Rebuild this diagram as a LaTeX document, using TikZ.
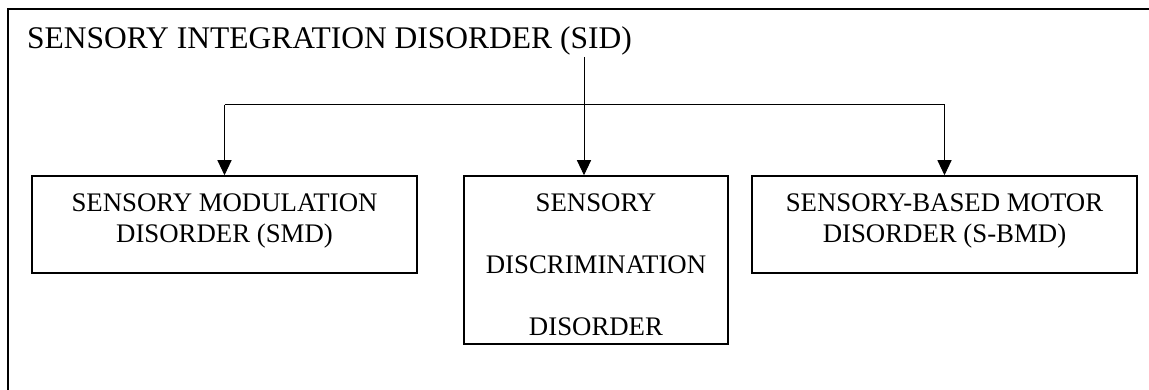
\documentclass[tikz,border=0pt]{standalone}
\usepackage{fontspec}
\setmainfont{Liberation Serif}
\usetikzlibrary{arrows.meta}
\tikzset{
  frameline/.style={line width=1.8pt},
  box/.style={draw, rectangle, line width=1.5pt, inner sep=0pt},
  boxtxt/.style={anchor=base, inner sep=0pt, font=\fontsize{26.8}{31}\selectfont},
  titletxt/.style={anchor=base west, inner sep=0pt, font=\fontsize{31.5}{36}\selectfont},
  conn/.style={line width=1pt},
  arr/.style={conn, -{Triangle[length=15pt,width=14pt]}}
}
\begin{document}
\begin{tikzpicture}[x=1pt,y=-1pt]
\useasboundingbox (0,0) rectangle (1149,390);
% frame (left and top edges)
\draw[frameline] (8,390) -- (8,9) -- (1149,9);
% title
\node[titletxt] (sid) at (27,48.5) {SENSORY INTEGRATION DISORDER (SID)};
% boxes
\node[box, minimum width=385pt, minimum height=97pt] (smd) at (224.5,224.5) {};
\node[box, minimum width=264pt, minimum height=168pt] (sdd) at (596,260) {};
\node[box, minimum width=385pt, minimum height=97pt] (sbmd) at (944.5,224.5) {};
% box texts
\node[boxtxt] (smd1) at (224.5,212) {SENSORY MODULATION};
\node[boxtxt] (smd2) at (224.5,243) {DISORDER (SMD)};
\node[boxtxt] (sdd1) at (596,212) {SENSORY};
\node[boxtxt] (sdd2) at (596,273.5) {DISCRIMINATION};
\node[boxtxt] (sdd3) at (596,335) {DISORDER};
\node[boxtxt] (sbmd1) at (944.5,212) {SENSORY-BASED MOTOR};
\node[boxtxt] (sbmd2) at (944.5,243) {DISORDER (S-BMD)};
% connectors
\coordinate (top) at (584,57);
\coordinate (jm) at (584,105);
\coordinate (jl) at (224.5,105);
\coordinate (jr) at (944.5,105);
\draw[conn] (top) -- (jm);
\draw[conn] (jl) -- (jr);
\draw[arr] (jl) -- (smd.north);
\draw[arr] (jm) -- (sdd.north -| jm);
\draw[arr] (jr) -- (sbmd.north);
\end{tikzpicture}
\end{document}
